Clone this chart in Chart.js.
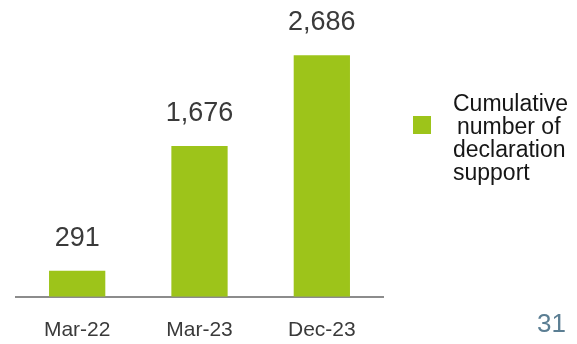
<!DOCTYPE html>
<html>
<head>
<meta charset="utf-8">
<script src="https://cdn.jsdelivr.net/npm/chart.js@4/dist/chart.umd.min.js"></script>
<style>
  html, body { margin: 0; padding: 0; background: #ffffff; }
  #wrap { width: 577px; height: 344px; position: relative; }
</style>
</head>
<body>
<div id="wrap"><canvas id="c" width="577" height="344"></canvas></div>
<script>
const categories = ["Mar-22", "Mar-23", "Dec-23"];
const seriesValues = [291, 1676, 2686];
const seriesName = "Cumulative number of declaration support";
const legendLines = ["Cumulative", "number of", "declaration", "support"];
const pageNumber = "31";

const GREEN = "#9DC41A";
const TEXT = "#3A3A3A";
const LEGEND_TEXT = "#161616";
const FONT = "'Liberation Sans', Arial, sans-serif";

const extras = {
  id: "extras",
  afterDatasetsDraw(chart) {
    const ctx = chart.ctx;
    const meta = chart.getDatasetMeta(0);
    ctx.save();
    ctx.font = "27px " + FONT;
    ctx.fillStyle = TEXT;
    ctx.textAlign = "center";
    ctx.textBaseline = "alphabetic";
    meta.data.forEach((bar, i) => {
      ctx.fillText(seriesValues[i].toLocaleString("en-US"), bar.x, bar.y - 25);
    });
    // legend
    ctx.fillStyle = GREEN;
    ctx.fillRect(413, 116, 18, 18);
    ctx.fillStyle = LEGEND_TEXT;
    ctx.font = "23px " + FONT;
    ctx.textAlign = "left";
    legendLines.forEach((line, i) => {
      ctx.fillText(line, i === 1 ? 457 : 453, 111 + i * 23);
    });
    // page number
    ctx.fillStyle = "#5B7E93";
    ctx.font = "26px " + FONT;
    ctx.textAlign = "left";
    ctx.fillText(pageNumber, 537, 332);
    ctx.restore();
  }
};

new Chart(document.getElementById("c"), {
  type: "bar",
  data: {
    labels: categories,
    datasets: [{
      label: seriesName,
      data: seriesValues,
      backgroundColor: GREEN,
      borderWidth: 0,
      categoryPercentage: 1.0,
      barPercentage: 0.46
    }]
  },
  options: {
    responsive: false,
    animation: false,
    devicePixelRatio: 1,
    layout: { padding: { left: 16, right: 194, top: 0, bottom: -20 } },
    plugins: { legend: { display: false }, tooltip: { enabled: false } },
    scales: {
      x: {
        grid: { display: false, drawTicks: false },
        border: { display: true, color: "#8C8C8C", width: 2 },
        ticks: { color: TEXT, font: { size: 21, family: FONT }, padding: 21 }
      },
      y: {
        display: false,
        min: 0,
        max: 3300
      }
    }
  },
  plugins: [extras]
});
</script>
</body>
</html>
